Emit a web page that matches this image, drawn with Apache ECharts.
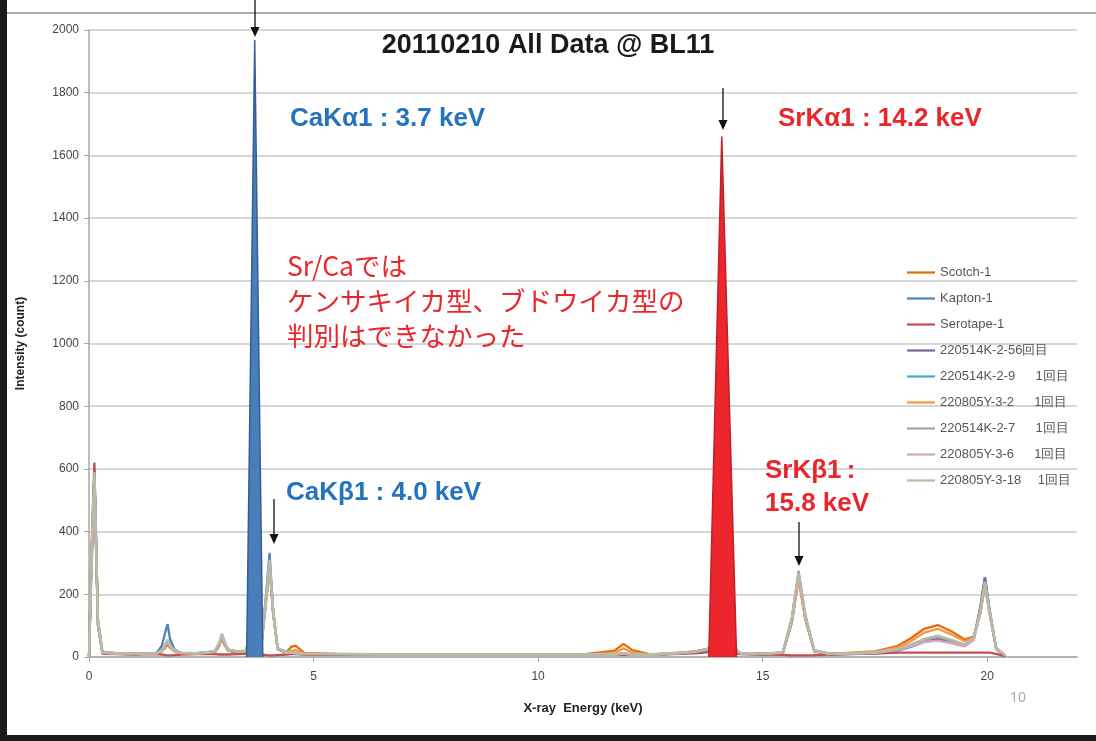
<!DOCTYPE html>
<html><head><meta charset="utf-8">
<script src="https://cdn.jsdelivr.net/npm/echarts@6/dist/echarts.min.js"></script>
<style>html,body{margin:0;padding:0;background:#fff;}#c{width:1096px;height:741px;}</style>
</head><body><div id="c"></div>
<script>
// ---- data (energy in keV, intensity in counts) ----
const energy = [0,0.05,0.12,0.2,0.3, 0.6,1.0,1.5,1.62,1.7, 1.75,1.8,1.9,2.05,2.4, 2.8,2.9,2.96,3.02,3.1,
  3.3,3.5,3.7,3.85,3.95, 4.02,4.1,4.2,4.4,4.5, 4.6,4.8,5.5,7.0,9.0, 11.0,11.7,11.9,12.1,12.5,
  13.0,13.5,13.75,14.15,14.5, 15.0,15.45,15.65,15.8,15.95, 16.15,16.5,17.0,17.5,18.0, 18.3,18.6,18.9,19.2,19.5,
  19.7,19.85,19.95,20.05,20.2, 20.4];

const seriesNames = ['Scotch-1','Kapton-1','Serotape-1','220514K-2-56回目','220514K-2-9\u3000  1回目',
  '220805Y-3-2\u3000  1回目','220514K-2-7\u3000  1回目','220805Y-3-6\u3000  1回目','220805Y-3-18\u3000 1回目'];
const seriesColors = ['#E46C0A','#4F81BD','#C0504D','#8064A2','#4BACC6','#F79646','#A5A5A5','#D3A6C6','#B4BEA6'];

const scotch1 = [0,280,600,110,14, 12,10,11,18,30, 40,30,18,12,11, 15,35,60,38,20,
  15,18,150,55,190, 300,140,28,16,32, 36,12,10,8,8, 8,20,42,22,8,
  12,18,25,60,12, 10,14,110,250,120, 18,10,14,18,35, 60,90,102,82,56,
  65,140,230,140,25, 5];
const kapton1 = [0,250,560,100,12, 10,9,12,35,80, 105,60,25,12,10, 15,38,65,40,20,
  15,18,150,60,210, 332,150,25,12,12, 10,9,8,7,7, 7,7,9,7,7,
  10,14,20,60,10, 8,13,112,258,125, 18,8,10,12,20, 32,48,55,45,35,
  55,160,255,150,25, 4];
const serotape1 = [0,320,620,100,10, 9,8,9,8,6, 5,5,6,8,9, 9,8,8,8,8,
  9,10,20,8,6, 5,5,6,8,9, 9,8,8,7,7, 7,7,8,7,7,
  9,12,15,20,9, 8,7,5,5,5, 6,8,9,11,14, 14,14,14,14,14,
  14,14,14,14,10, 3];
const k2_5 = [0,290,580,115,14, 12,10,12,20,36, 48,34,20,13,12, 17,40,66,44,22,
  17,19,150,55,190, 290,140,27,13,14, 12,10,9,8,8, 8,8,11,8,8,
  11,17,24,60,12, 10,14,118,260,128, 20,10,11,14,23, 36,50,58,48,36,
  58,160,255,155,28, 5];
const k2_9 = [0,285,575,112,14, 12,10,12,21,39, 54,37,21,13,12, 18,44,74,47,23,
  18,20,150,58,198, 305,148,29,14,15, 12,10,9,8,8, 8,8,11,8,8,
  11,17,24,60,12, 10,15,122,270,132, 21,10,11,14,24, 38,56,66,53,39,
  59,148,238,148,29, 5];
const y3_2 = [0,275,565,108,14, 12,10,11,19,35, 47,33,19,12,11, 16,38,62,42,21,
  16,18,150,52,185, 285,138,27,14,20, 22,11,10,8,8, 8,12,28,14,8,
  11,17,24,60,12, 10,13,110,250,122, 19,10,12,16,30, 50,78,90,72,50,
  62,145,235,145,27, 5];
const k2_7 = [0,280,570,110,14, 12,10,11,20,38, 52,36,20,13,11, 17,42,70,46,22,
  17,19,150,55,195, 300,145,28,13,15, 12,10,9,8,8, 8,8,11,8,8,
  11,17,24,60,12, 10,14,125,275,135, 22,10,11,14,24, 38,55,64,52,38,
  58,145,235,145,28, 5];
const y3_6 = [0,270,560,105,13, 11,10,11,19,36, 50,35,20,13,11, 17,41,68,45,22,
  17,19,150,54,190, 295,142,27,13,14, 12,10,9,8,8, 8,8,11,8,8,
  11,16,23,60,12, 10,14,116,262,128, 20,10,11,13,22, 34,48,52,44,34,
  55,142,230,142,27, 5];
const y3_18 = [0,300,590,120,15, 12,10,12,22,40, 55,38,22,14,12, 18,45,72,48,24,
  18,20,150,60,200, 310,150,30,14,16, 13,11,10,8,8, 8,8,12,8,8,
  12,18,25,60,12, 10,15,120,265,130, 20,10,12,15,25, 40,58,68,55,40,
  60,150,240,150,30, 5];
const allValues = [scotch1,kapton1,serotape1,k2_5,k2_9,y3_2,k2_7,y3_6,y3_18];

// highlighted peaks drawn as filled spikes (keV, counts)
const caKa1Spike = [[3.51,0],[3.69,1968],[3.87,0]];
const srKa1Spike = [[13.8,0],[14.09,1660],[14.42,0]];

const yTicks = [0,200,400,600,800,1000,1200,1400,1600,1800,2000];
const xTicks = [0,5,10,15,20];

// ---- chart ----
const chart = echarts.init(document.getElementById('c'), null, {renderer:'canvas'});
const FONT = '"Liberation Sans", Arial, sans-serif';

const lineSeries = seriesNames.map((n,i)=>({
  name:n, type:'line', symbol:'none', smooth:false, z:2,
  lineStyle:{width:2.3, color:seriesColors[i]}, itemStyle:{color:seriesColors[i]},
  data: energy.map((e,k)=>[e, allValues[i][k]])
}));
const spike = (data, fill, stroke)=>({
  type:'line', symbol:'none', z:5, silent:true, data,
  lineStyle:{width:1.5, color:stroke}, areaStyle:{color:fill, opacity:1}
});

function arrow(x, y1, y2){
  return [
    {type:'line', shape:{x1:x,y1:y1,x2:x,y2:y2-8}, style:{stroke:'#111', lineWidth:1.3}, z:100},
    {type:'polygon', shape:{points:[[x-4.5,y2-10],[x+4.5,y2-10],[x,y2]]}, style:{fill:'#111'}, z:100}
  ];
}
function txt(s, x, y, color, size, weight, family){
  return {type:'text', x, y, z:100, style:{text:s, fill:color, fontSize:size, fontWeight:weight||'bold',
    fontFamily:family||FONT, verticalAlign:'middle', align:'left'}};
}
const BLUE = '#2373BD', RED = '#E8262B';
const JP = '"Noto Sans CJK JP", sans-serif';

chart.setOption({
  animation:false,
  backgroundColor:'#fff',
  title:{text:'20110210 All Data @ BL11', left:'center', top:27,
    textStyle:{fontFamily:FONT, fontSize:27, fontWeight:'bold', color:'#1a1a1a'}},
  grid:{left:89, right:19, top:30, bottom:84, containLabel:false},
  legend:{orient:'vertical', left:902, top:261, itemGap:13, itemWidth:28, itemHeight:14,
    icon:'path://M0,0 H30 V2.4 H0 Z', symbolKeepAspect:true,
    data:seriesNames, textStyle:{fontFamily:FONT, fontSize:13, color:'#555'}},
  xAxis:{type:'value', min:0, max:22, interval:5,
    name:'X-ray  Energy (keV)', nameLocation:'middle', nameGap:45,
    nameTextStyle:{fontFamily:FONT, fontSize:13, fontWeight:'bold', color:'#222'},
    axisLine:{show:true, lineStyle:{color:'#A6A6A6', width:1.5}},
    axisTick:{show:true, length:5, lineStyle:{color:'#A6A6A6'}},
    axisLabel:{fontFamily:FONT, fontSize:12, color:'#444', margin:14, showMaxLabel:false,
      formatter:v=> xTicks.includes(v) ? String(v) : ''},
    splitLine:{show:false}},
  yAxis:{type:'value', min:0, max:2000, interval:200,
    name:'Intensity (count)', nameLocation:'middle', nameGap:62,
    nameTextStyle:{fontFamily:FONT, fontSize:12, fontWeight:'bold', color:'#222'},
    axisLine:{show:true, lineStyle:{color:'#A6A6A6', width:1.5}},
    axisTick:{show:true, length:5, lineStyle:{color:'#A6A6A6'}},
    axisLabel:{fontFamily:FONT, fontSize:12, color:'#444', margin:10,
      formatter:v=> yTicks.includes(v) ? String(v) : ''},
    splitLine:{show:true, lineStyle:{color:'#C8C8C8', width:1.5}}},
  series: lineSeries.concat([
    spike(caKa1Spike, '#4A7EBB', '#345E91'),
    spike(srKa1Spike, '#EC262C', '#C0202A')
  ]),
  graphic:[
    // slide frame
    {type:'rect', shape:{x:0,y:0,width:7,height:741}, style:{fill:'#1a1a1a'}, z:100},
    {type:'rect', shape:{x:0,y:735,width:1096,height:6}, style:{fill:'#1a1a1a'}, z:100},
    {type:'rect', shape:{x:7,y:12,width:1089,height:2}, style:{fill:'#A9A9A9'}, z:100},
    ...arrow(255, 0, 37),
    ...arrow(723, 88, 130),
    ...arrow(274, 499, 544),
    ...arrow(799, 522, 566),
    txt('CaKα1 : 3.7 keV', 290, 119, BLUE, 26),
    txt('SrKα1 : 14.2 keV', 778, 119, RED, 26),
    txt('CaKβ1 : 4.0 keV', 286, 493, BLUE, 26),
    txt('SrKβ1\u2009:', 765, 471, RED, 26),
    txt('15.8 keV', 765, 504, RED, 26),
    txt('Sr/Caでは', 287, 266, RED, 26.5, 'normal', JP),
    txt('ケンサキイカ型、ブドウイカ型の', 287, 301, RED, 26.5, 'normal', JP),
    txt('判別はできなかった', 287, 336, RED, 26.5, 'normal', JP),
    txt('10', 1010, 698, '#A6A6A6', 14, 'normal', '"Open Sans", sans-serif')
  ]
});
</script></body></html>
